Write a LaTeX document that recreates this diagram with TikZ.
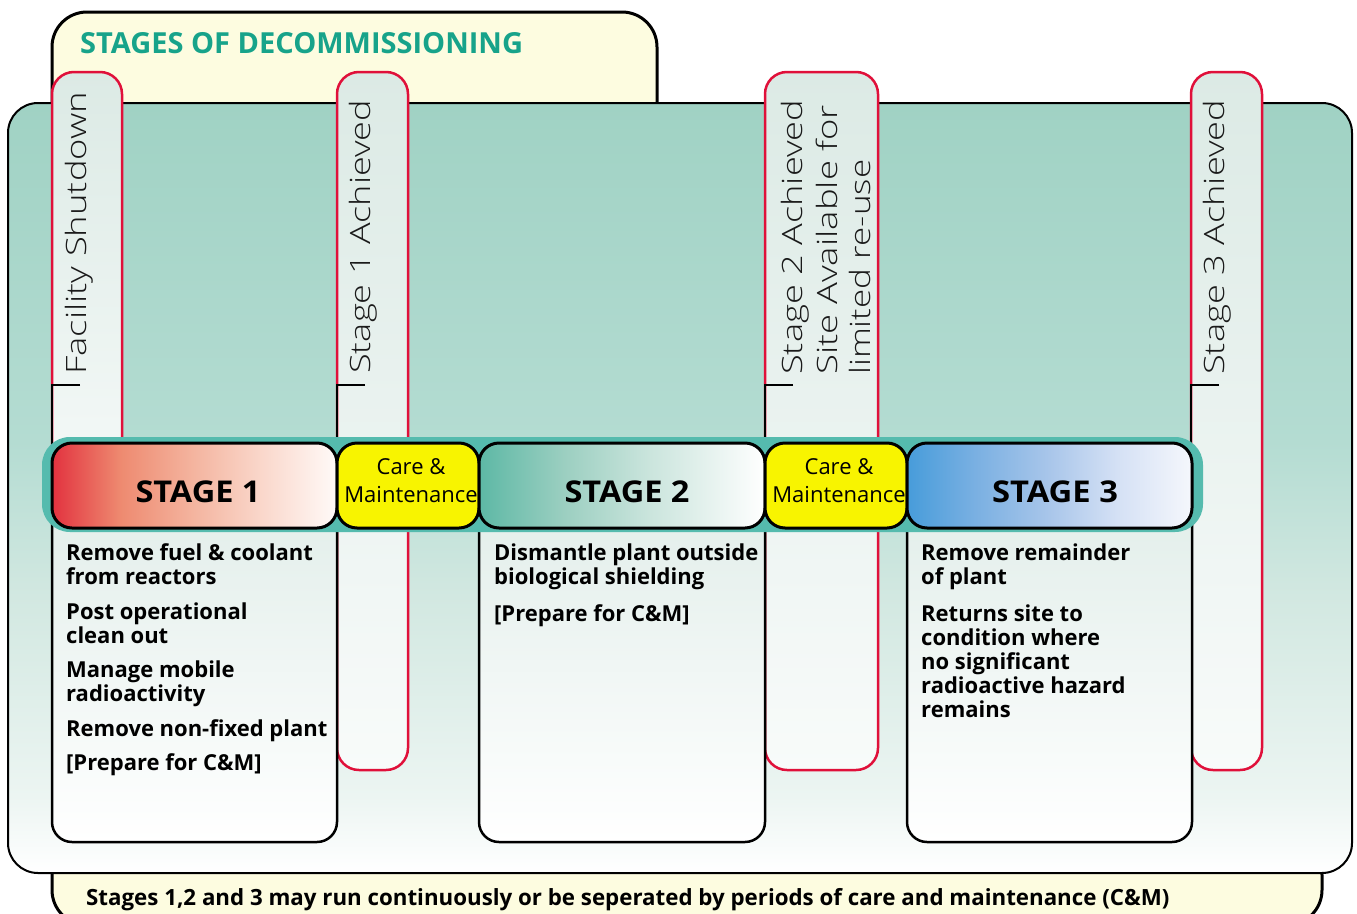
\documentclass[tikz,border=0pt]{standalone}
\usepackage{fontspec}
\usepackage{graphicx}
\setmainfont{Open Sans}
\IfFontExistsTF{Open Sans Light}{\newfontfamily\lightfont{Open Sans Light}}{\newfontfamily\lightfont{Lato Light}}
\definecolor{pred}{HTML}{E0103A}
\definecolor{pilltop}{HTML}{DCEAE5}
\definecolor{pillbot}{HTML}{F8FBFA}
\definecolor{cream}{HTML}{FDFCE0}
\definecolor{titleteal}{HTML}{17A38A}
\definecolor{barteal}{HTML}{55BBAE}
\definecolor{cmyellow}{HTML}{F8F400}
\definecolor{boxtop}{HTML}{E2EEEA}
\definecolor{vtext}{HTML}{1A1A1A}
\pgfdeclareverticalshading{panelshade}{100bp}{color(0bp)=(white); color(25bp)=(white); color(30bp)=(rgb,255:red,236;green,245;blue,242); color(43bp)=(rgb,255:red,210;green,232;blue,225); color(53bp)=(rgb,255:red,180;green,220;blue,210); color(75bp)=(rgb,255:red,160;green,210;blue,196); color(100bp)=(rgb,255:red,160;green,210;blue,196)}
\pgfdeclarehorizontalshading{sone}{100bp}{color(0bp)=(rgb,255:red,226;green,50;blue,63); color(25bp)=(rgb,255:red,226;green,50;blue,63); color(37bp)=(rgb,255:red,238;green,138;blue,112); color(50bp)=(rgb,255:red,244;green,181;blue,160); color(62bp)=(rgb,255:red,250;green,216;blue,204); color(75bp)=(rgb,255:red,255;green,250;blue,248); color(100bp)=(rgb,255:red,255;green,250;blue,248)}
\pgfdeclarehorizontalshading{stwo}{100bp}{color(0bp)=(rgb,255:red,93;green,184;blue,165); color(25bp)=(rgb,255:red,93;green,184;blue,165); color(40bp)=(rgb,255:red,156;green,207;blue,193); color(55bp)=(rgb,255:red,203;green,229;blue,221); color(75bp)=(white); color(100bp)=(white)}
\pgfdeclarehorizontalshading{sthree}{100bp}{color(0bp)=(rgb,255:red,71;green,156;blue,218); color(25bp)=(rgb,255:red,71;green,156;blue,218); color(37bp)=(rgb,255:red,122;green,176;blue,226); color(50bp)=(rgb,255:red,169;green,198;blue,234); color(62bp)=(rgb,255:red,213;green,225;blue,245); color(75bp)=(rgb,255:red,245;green,247;blue,252); color(100bp)=(rgb,255:red,245;green,247;blue,252)}
\newlength\fitlen
\newcommand\fitto[2]{\settowidth{\fitlen}{#2}\pgfmathsetmacro\fitfac{#1/\fitlen}\scalebox{\fitfac}[1]{#2}}
\newcommand\bodyfnt{\fontsize{22}{24}\selectfont\bfseries}
\newcommand\vfnt{\lightfont\fontsize{28}{34}\selectfont}
\tikzset{
  tabbox/.style={draw=black, line width=3pt, fill=cream, rounded corners=35pt},
  panelbox/.style={draw=black, line width=2pt, shading=panelshade, rounded corners=30pt},
  pillar/.style={draw=pred, line width=2.5pt, rounded corners=22pt, top color=pilltop, bottom color=pillbot},
  bracket/.style={draw=black, line width=2.5pt},
  contentbox/.style={draw=black, line width=2.5pt, rounded corners=20pt, top color=boxtop, bottom color=white},
  headbox/.style={draw=black, line width=3pt, rounded corners=20pt},
  cmbox/.style={headbox, fill=cmyellow},
  stagelbl/.style={font=\fontsize{30}{34}\selectfont\bfseries, text=black, inner sep=0},
  cmlbl/.style={font=\fontsize{22}{28}\selectfont, align=center, inner sep=0},
  bodytxt/.style={font=\bodyfnt, anchor=base west, inner sep=0},
  vlbl/.style={font=\vfnt, text=vtext, rotate=90, anchor=base west, inner sep=0},
}
\begin{document}
\begin{tikzpicture}[x=1pt,y=-1pt]
\useasboundingbox (0,0) rectangle (1357,913);
\clip (0,0) rectangle (1357,913);
\fill[white] (0,0) rectangle (1357,913);
% tabs
\draw[tabbox] (52,12) rectangle (657,140);
\draw[tabbox] (52,840) rectangle (1322,925);
\node[anchor=base west, inner sep=0, font=\fontsize{29}{32}\selectfont\bfseries, text=titleteal] (title) at (80,53) {STAGES OF DECOMMISSIONING};
\node[anchor=base west, inner sep=0, font=\fontsize{22.3}{24}\selectfont\bfseries] (note) at (86,905.5) {Stages 1,2 and 3 may run continuously or be seperated by periods of care and maintenance (C\&M)};
% panel
\draw[panelbox] (8,103) rectangle (1352,873);
% pillars
\draw[pillar] (52,72) rectangle (122,540);
\draw[pillar] (337,72) rectangle (408,770);
\draw[pillar] (765,72) rectangle (878,770);
\draw[pillar] (1191,72) rectangle (1262,770);
% brackets
\coordinate (b1) at (52,385); \coordinate (b1e) at (80,385); \coordinate (b1d) at (52,445);
\coordinate (b2) at (337,385); \coordinate (b2e) at (365,385); \coordinate (b2d) at (337,445);
\coordinate (b3) at (765,385); \coordinate (b3e) at (793,385); \coordinate (b3d) at (765,445);
\coordinate (b4) at (1191,385); \coordinate (b4e) at (1219,385); \coordinate (b4d) at (1191,445);
\draw[bracket] (b1e) -- (b1) -- (b1d);
\draw[bracket] (b2e) -- (b2) -- (b2d);
\draw[bracket] (b3e) -- (b3) -- (b3d);
\draw[bracket] (b4e) -- (b4) -- (b4d);
% vertical labels
\node[vlbl] (v1) at (86,375) {\fitto{283}{Facility Shutdown}};
\node[vlbl] (v2) at (370,374) {\fitto{274}{Stage 1 Achieved}};
\node[vlbl] (v3a) at (802,375) {\fitto{275}{Stage 2 Achieved}};
\node[vlbl] (v3b) at (837,375) {\fitto{270}{Site Available for}};
\node[vlbl] (v3c) at (870,375) {\fitto{215}{limited re-use}};
\node[vlbl] (v4) at (1224,375) {\fitto{275}{Stage 3 Achieved}};
% content boxes
\draw[contentbox] (52,500) rectangle (337,842);
\draw[contentbox] (479,500) rectangle (765,842);
\draw[contentbox] (907,500) rectangle (1192,842);
% bar
\fill[barteal, rounded corners=28pt] (42,437) rectangle (1203,532);
\draw[headbox, shading=sone] (52,443) rectangle (337,528);
\draw[cmbox] (337,443) rectangle (479,528);
\draw[headbox, shading=stwo] (479,443) rectangle (765,528);
\draw[cmbox] (765,443) rectangle (907,528);
\draw[headbox, shading=sthree] (907,443) rectangle (1192,528);
\node[stagelbl] (s1) at (198,492) {\fitto{125}{STAGE 1}};
\node[stagelbl] (s2) at (627,492) {\fitto{125}{STAGE 2}};
\node[stagelbl] (s3) at (1055,492) {\fitto{126}{STAGE 3}};
\node[cmlbl] (cm1) at (411,481) {Care \&\\Maintenance};
\node[cmlbl] (cm2) at (839,481) {Care \&\\Maintenance};
% stage 1 text
\node[bodytxt] (a1) at (66,560) {Remove fuel \& coolant};
\node[bodytxt] (a2) at (66,584) {from reactors};
\node[bodytxt] (a3) at (66,619) {Post operational};
\node[bodytxt] (a4) at (66,643) {clean out};
\node[bodytxt] (a5) at (66,677) {Manage mobile};
\node[bodytxt] (a6) at (66,701) {radioactivity};
\node[bodytxt] (a7) at (66,736) {Remove non-fixed plant};
\node[bodytxt] (a8) at (66,770) {[Prepare for C\&M]};
% stage 2 text
\node[bodytxt] (c1) at (494,560) {Dismantle plant outside};
\node[bodytxt] (c2) at (494,584) {biological shielding};
\node[bodytxt] (c3) at (494,621) {[Prepare for C\&M]};
% stage 3 text
\node[bodytxt] (d1) at (921,560) {Remove remainder};
\node[bodytxt] (d2) at (921,584) {of plant};
\node[bodytxt] (d3) at (921,621) {Returns site to};
\node[bodytxt] (d4) at (921,645) {condition where};
\node[bodytxt] (d5) at (921,669) {no significant};
\node[bodytxt] (d6) at (921,693) {radioactive hazard};
\node[bodytxt] (d7) at (921,717) {remains};
\end{tikzpicture}
\end{document}
